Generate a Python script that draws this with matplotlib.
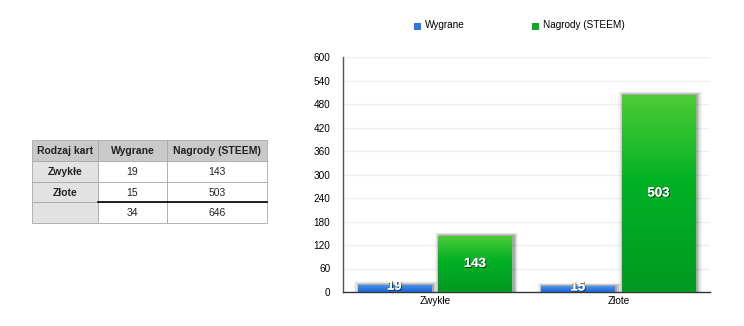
import numpy as np
import matplotlib.pyplot as plt
import matplotlib.patheffects as pe
from matplotlib.patches import Rectangle
from matplotlib.colors import to_rgb

plt.rcParams["font.family"] = ["Liberation Sans", "DejaVu Sans"]

categories = ["Zwykłe", "Złote"]
wygrane = [19, 15]
nagrody = [143, 503]
series_names = ["Wygrane", "Nagrody (STEEM)"]

table_header = ["Rodzaj kart", "Wygrane", "Nagrody (STEEM)"]
table_rows = [["Zwykłe", "19", "143"],
              ["Złote", "15", "503"],
              ["", "34", "646"]]

yticks = list(range(0, 601, 60))


def gradient_bar(ax, x, w, h, stops):
    # soft shadow around the bar
    for i, a in enumerate([0.16, 0.11, 0.07, 0.04]):
        pad = 0.007 * (i + 1)
        ax.add_patch(Rectangle((x - pad + 0.008, -1), w + 2 * pad, h + 1 + 2.2 * (i + 1),
                               facecolor="black", alpha=a, lw=0, zorder=2))
    rect = Rectangle((x, 0), w, h, facecolor="none", lw=0, zorder=3)
    ax.add_patch(rect)
    pos = np.array([p for p, _ in stops])
    cols = np.array([to_rgb(c) for _, c in stops])
    t = np.linspace(0, 1, 96)
    grad = np.stack([np.interp(t, pos, cols[:, k]) for k in range(3)], axis=1)[:, None, :]
    im = ax.imshow(grad, extent=(x, x + w, 0, h), origin="upper",
                   aspect="auto", zorder=3)
    im.set_clip_path(rect)


blue_stops = [(0, "#4a9af0"), (1, "#1c62d0")]
green_stops = [(0, "#4ecc36"), (0.45, "#00b124"), (1, "#009a22")]

fig = plt.figure(figsize=(7.44, 3.26), dpi=100)

# chart
ax = fig.add_axes([343 / 744, 1 - 292 / 326, 367 / 744, 235 / 326])

w = 0.4
shadow = [pe.withSimplePatchShadow(offset=(0.6, -0.6), shadow_rgbFace="black", alpha=0.8), pe.Normal()]
for i, cat in enumerate(categories):
    xc = i + 0.5
    gradient_bar(ax, xc - 0.22 - w / 2, w, wygrane[i], blue_stops)
    gradient_bar(ax, xc + 0.22 - w / 2, w, nagrody[i], green_stops)
    ax.text(xc - 0.22, wygrane[i] / 2 + 4, str(wygrane[i]), color="white", ha="center",
            va="center", fontsize=9.5, fontweight="bold", zorder=5, path_effects=shadow)
    ax.text(xc + 0.22, nagrody[i] / 2, str(nagrody[i]), color="white", ha="center",
            va="center", fontsize=9.5, fontweight="bold", zorder=5, path_effects=shadow)

ax.set_xlim(0, 2)
ax.set_ylim(0, 600)
ax.set_yticks(yticks)
ax.tick_params(axis="y", length=0, labelsize=7.2, pad=9)
ax.set_xticks([0.5, 1.5])
ax.set_xticklabels(categories)
ax.tick_params(axis="x", length=0, labelsize=7.2, pad=3)
for y in yticks[1:]:
    ax.axhline(y, color="#efefef", lw=0.9, zorder=1)
for s in ["top", "right"]:
    ax.spines[s].set_visible(False)
ax.spines["left"].set_color("#555555")
ax.spines["bottom"].set_color("#333333")
ax.spines["left"].set_linewidth(1.0)
ax.spines["bottom"].set_linewidth(1.0)

# legend
fig.patches.append(Rectangle((414 / 744, 1 - 30 / 326), 7 / 744, 7 / 326,
                             transform=fig.transFigure, facecolor="#2a78e0", lw=0))
fig.text(425 / 744, 1 - 25 / 326, series_names[0], fontsize=7.2, va="center")
fig.patches.append(Rectangle((532 / 744, 1 - 30 / 326), 7 / 744, 7 / 326,
                             transform=fig.transFigure, facecolor="#10a828", lw=0))
fig.text(543 / 744, 1 - 25 / 326, series_names[1], fontsize=7.2, va="center")

# table
tx = fig.add_axes([0, 0, 1, 1])
tx.set_xlim(0, 744)
tx.set_ylim(326, 0)
tx.axis("off")
col_x = [32, 98, 167, 267]
row_y = [140, 161, 182, 202, 223]
for r in range(4):
    for c in range(3):
        if r == 0:
            fc = "#c9c9c9"
        elif c == 0:
            fc = "#e2e2e2"
        else:
            fc = "white"
        tx.add_patch(Rectangle((col_x[c], row_y[r]), col_x[c + 1] - col_x[c],
                               row_y[r + 1] - row_y[r], facecolor=fc,
                               edgecolor="#a8a8a8", lw=0.6))
        txt = table_header[c] if r == 0 else table_rows[r - 1][c]
        bold = r == 0 or c == 0
        tx.text((col_x[c] + col_x[c + 1]) / 2, (row_y[r] + row_y[r + 1]) / 2 + 0.5, txt,
                ha="center", va="center", fontsize=7.5,
                fontweight="bold" if bold else "normal", color="#222222")
tx.plot([col_x[1], col_x[3]], [row_y[3], row_y[3]], color="black", lw=1.2)

fig.savefig("out.png", dpi=100)
